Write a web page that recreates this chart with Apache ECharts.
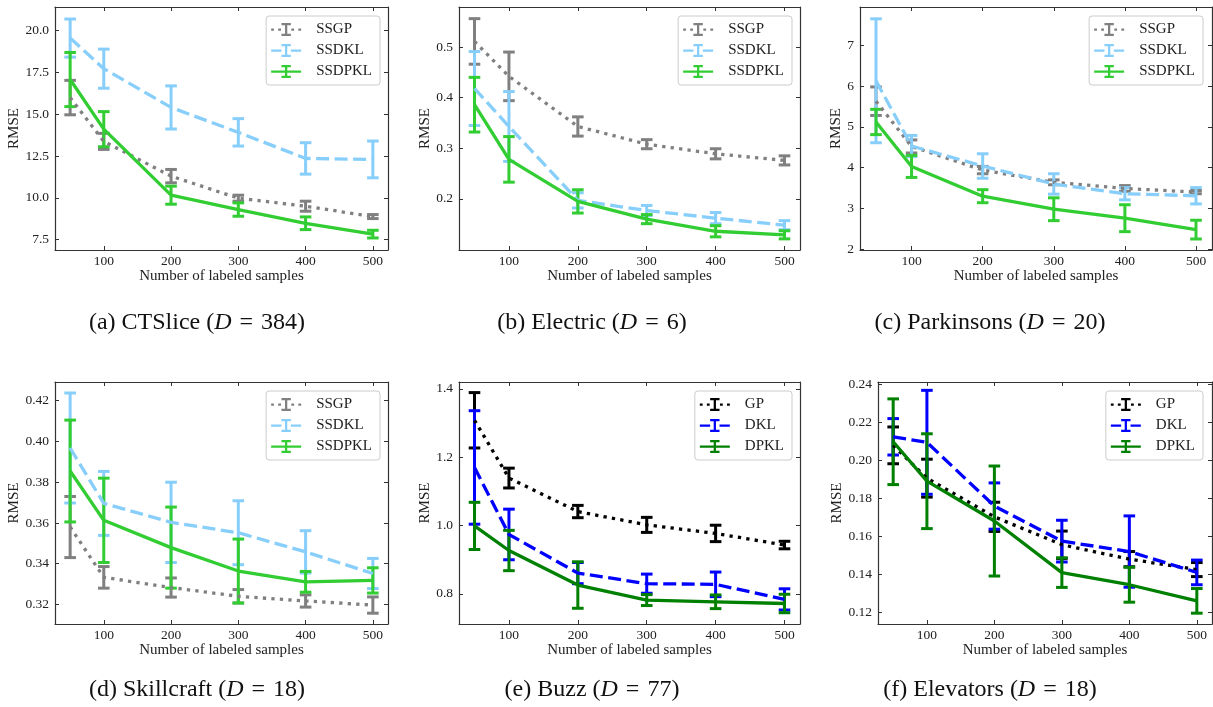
<!DOCTYPE html>
<html><head><meta charset="utf-8">
<script src="https://cdn.jsdelivr.net/npm/echarts@6/dist/echarts.min.js"></script>
<style>html,body{margin:0;padding:0;background:#fff}#main{width:1213px;height:707px}</style>
</head><body><div id="main"></div>
<script>
// ---------- data ----------
const samples = [50, 100, 200, 300, 400, 500];
const xTicks = [100, 200, 300, 400, 500];

// (a) CTSlice
const ctsliceSSGP = [16.0, 13.38, 11.3, 9.98, 9.5, 8.88];
const ctsliceSSGPErr = [1.03, 0.48, 0.4, 0.18, 0.3, 0.12];
const ctsliceSSDKL = [19.56, 17.73, 15.41, 13.92, 12.36, 12.3];
const ctsliceSSDKLErr = [1.14, 1.17, 1.29, 0.82, 0.94, 1.1];
const ctsliceSSDPKL = [17.08, 14.11, 10.16, 9.3, 8.48, 7.83];
const ctsliceSSDPKLErr = [1.62, 1.05, 0.54, 0.4, 0.38, 0.23];
const ctsliceYTicks = [7.5, 10, 12.5, 15, 17.5, 20];

// (b) Electric
const electricSSGP = [0.511, 0.442, 0.343, 0.308, 0.289, 0.276];
const electricSSGPErr = [0.045, 0.048, 0.019, 0.009, 0.01, 0.009];
const electricSSDKL = [0.418, 0.343, 0.197, 0.177, 0.162, 0.148];
const electricSSDKLErr = [0.073, 0.069, 0.015, 0.01, 0.011, 0.009];
const electricSSDPKL = [0.386, 0.278, 0.195, 0.16, 0.136, 0.129];
const electricSSDPKLErr = [0.054, 0.045, 0.023, 0.009, 0.011, 0.008];
const electricYTicks = [0.2, 0.3, 0.4, 0.5];

// (c) Parkinsons
const parkinsonsSSGP = [5.63, 4.52, 3.94, 3.64, 3.49, 3.4];
const parkinsonsSSGPErr = [0.35, 0.16, 0.09, 0.06, 0.07, 0.04];
const parkinsonsSSDKL = [6.13, 4.53, 4.04, 3.6, 3.36, 3.31];
const parkinsonsSSDKLErr = [1.52, 0.26, 0.3, 0.25, 0.15, 0.2];
const parkinsonsSSDPKL = [5.12, 4.03, 3.3, 2.98, 2.76, 2.48];
const parkinsonsSSDPKLErr = [0.31, 0.27, 0.16, 0.28, 0.33, 0.23];
const parkinsonsYTicks = [2, 3, 4, 5, 6, 7];

// (d) Skillcraft
const skillcraftSSGP = [0.358, 0.3333, 0.3283, 0.324, 0.3217, 0.3197];
const skillcraftSSGPErr = [0.015, 0.0053, 0.0047, 0.0033, 0.003, 0.004];
const skillcraftSSDKL = [0.3968, 0.3696, 0.3603, 0.3552, 0.3458, 0.3352];
const skillcraftSSDKLErr = [0.027, 0.0157, 0.0197, 0.0157, 0.0104, 0.0074];
const skillcraftSSDPKL = [0.3855, 0.3613, 0.3479, 0.3364, 0.3311, 0.3318];
const skillcraftSSDPKLErr = [0.025, 0.0207, 0.0199, 0.0157, 0.0051, 0.0062];
const skillcraftYTicks = [0.32, 0.34, 0.36, 0.38, 0.40, 0.42];

// (e) Buzz
const buzzGP = [1.308, 1.139, 1.041, 1.002, 0.977, 0.943];
const buzzGPErr = [0.081, 0.029, 0.018, 0.022, 0.024, 0.011];
const buzzDKL = [1.17, 0.974, 0.861, 0.83, 0.828, 0.784];
const buzzDKLErr = [0.166, 0.074, 0.031, 0.028, 0.036, 0.031];
const buzzDPKL = [0.999, 0.927, 0.826, 0.782, 0.777, 0.772];
const buzzDPKLErr = [0.069, 0.059, 0.068, 0.016, 0.02, 0.027];
const buzzYTicks = [0.8, 1.0, 1.2, 1.4];

// (f) Elevators
const elevatorsGP = [0.208, 0.1907, 0.1703, 0.1556, 0.148, 0.1425];
const elevatorsGPErr = [0.0097, 0.01, 0.0077, 0.0072, 0.004, 0.0037];
const elevatorsDKL = [0.2125, 0.2096, 0.176, 0.1575, 0.152, 0.141];
const elevatorsDKLErr = [0.0096, 0.0274, 0.0122, 0.011, 0.0188, 0.0065];
const elevatorsDPKL = [0.2099, 0.1891, 0.1681, 0.1409, 0.1345, 0.126];
const elevatorsDPKLErr = [0.0226, 0.025, 0.029, 0.0078, 0.0092, 0.0065];
const elevatorsYTicks = [0.12, 0.14, 0.16, 0.18, 0.20, 0.22, 0.24];

// ---------- styling / layout ----------
const FONT = 'Liberation Serif';
const TXT = '#222';
const AX = '#333';
const LW = 3.3;

const methodStyle = {
  SSGP:   { color: '#808080', dash: [3.3, 5.2] },
  SSDKL:  { color: '#87CEFA', dash: [13, 5.5] },
  SSDPKL: { color: '#32CD32', dash: 'solid' },
  GP:     { color: '#000000', dash: [3.3, 5.2] },
  DKL:    { color: '#0000FF', dash: [13, 5.5] },
  DPKL:   { color: '#008000', dash: 'solid' }
};
const beam = 'M14.8 0H17.2V14H14.8Z M11 0H21V2.4H11Z M11 11.6H21V14H11Z';
const iconPath = {
  solid: 'path://M0 5.8H32V8.2H0Z ' + beam,
  dashed: 'path://M0 5.8H11V8.2H0Z M21 5.8H32V8.2H21Z ' + beam,
  dotted: 'path://M0 5.8H3V8.2H0Z M7.5 5.8H10.5V8.2H7.5Z M21.5 5.8H24.5V8.2H21.5Z M29 5.8H32V8.2H29Z ' + beam
};
function iconFor(m) {
  const d = methodStyle[m].dash;
  if (d === 'solid') return iconPath.solid;
  return d[0] < 5 ? iconPath.dotted : iconPath.dashed;
}

const EQ = '\u2004=\u2004';
const panels = [
  { caption: ['(a) CTSlice (', 'D', EQ + '384)'], cx: 197, cy: 323,
    grid: { left: 55, top: 7, width: 333, height: 243 }, y: [6.88, 21.42], yTicks: ctsliceYTicks, dec: 1, nameGap: 31,
    legend: { right: 833, top: 16 },
    methods: [['SSGP', ctsliceSSGP, ctsliceSSGPErr], ['SSDKL', ctsliceSSDKL, ctsliceSSDKLErr], ['SSDPKL', ctsliceSSDPKL, ctsliceSSDPKLErr]] },
  { caption: ['(b) Electric (', 'D', EQ + '6)'], cx: 592, cy: 323,
    grid: { left: 459, top: 7, width: 341, height: 243 }, y: [0.099, 0.579], yTicks: electricYTicks, dec: 1, nameGap: 22,
    legend: { right: 421, top: 16 },
    methods: [['SSGP', electricSSGP, electricSSGPErr], ['SSDKL', electricSSDKL, electricSSDKLErr], ['SSDPKL', electricSSDPKL, electricSSDPKLErr]] },
  { caption: ['(c) Parkinsons (', 'D', EQ + '20)'], cx: 990, cy: 323,
    grid: { left: 860, top: 7, width: 352, height: 243 }, y: [1.98, 7.94], yTicks: parkinsonsYTicks, dec: 0, nameGap: 11,
    legend: { right: 10, top: 16 },
    methods: [['SSGP', parkinsonsSSGP, parkinsonsSSGPErr], ['SSDKL', parkinsonsSSDKL, parkinsonsSSDKLErr], ['SSDPKL', parkinsonsSSDPKL, parkinsonsSSDPKLErr]] },
  { caption: ['(d) Skillcraft (', 'D', EQ + '18)'], cx: 197, cy: 690,
    grid: { left: 55, top: 382, width: 333, height: 242 }, y: [0.3104, 0.4292], yTicks: skillcraftYTicks, dec: 2, nameGap: 31,
    legend: { right: 833, top: 391 },
    methods: [['SSGP', skillcraftSSGP, skillcraftSSGPErr], ['SSDKL', skillcraftSSDKL, skillcraftSSDKLErr], ['SSDPKL', skillcraftSSDPKL, skillcraftSSDPKLErr]] },
  { caption: ['(e) Buzz (', 'D', EQ + '77)'], cx: 592, cy: 690,
    grid: { left: 459, top: 382, width: 341, height: 242 }, y: [0.712, 1.42], yTicks: buzzYTicks, dec: 1, nameGap: 22,
    legend: { right: 421, top: 391 },
    methods: [['GP', buzzGP, buzzGPErr], ['DKL', buzzDKL, buzzDKLErr], ['DPKL', buzzDPKL, buzzDPKLErr]] },
  { caption: ['(f) Elevators (', 'D', EQ + '18)'], cx: 990, cy: 690,
    grid: { left: 878, top: 382, width: 334, height: 242 }, y: [0.1138, 0.2414], yTicks: elevatorsYTicks, dec: 2, nameGap: 30,
    legend: { right: 10, top: 391 },
    methods: [['GP', elevatorsGP, elevatorsGPErr], ['DKL', elevatorsDKL, elevatorsDKLErr], ['DPKL', elevatorsDPKL, elevatorsDPKLErr]] }
];

const tickStyle = { show: true, inside: true, length: 4, lineStyle: { color: AX, width: 1 } };
const lineStyleAx = { show: true, lineStyle: { color: AX, width: 1.2 } };

const grid = [], xAxis = [], yAxis = [], series = [], legend = [], graphic = [];
panels.forEach((p, i) => {
  grid.push(Object.assign({ containLabel: false }, p.grid));
  xAxis.push({
    type: 'value', gridIndex: i, min: 27.5, max: 522.5, position: 'bottom',
    name: 'Number of labeled samples', nameLocation: 'middle', nameGap: 15,
    nameTextStyle: { fontFamily: FONT, fontSize: 15, color: TXT },
    axisLine: lineStyleAx, splitLine: { show: false },
    axisTick: Object.assign({ customValues: xTicks }, tickStyle),
    axisLabel: { customValues: xTicks, fontFamily: FONT, fontSize: 13.5, color: TXT, margin: 4 }
  });
  yAxis.push({
    type: 'value', gridIndex: i, min: p.y[0], max: p.y[1], position: 'left',
    name: 'RMSE', nameLocation: 'middle', nameGap: p.nameGap,
    nameTextStyle: { fontFamily: FONT, fontSize: 15, color: TXT },
    axisLine: lineStyleAx, splitLine: { show: false },
    axisTick: Object.assign({ customValues: p.yTicks }, tickStyle),
    axisLabel: { customValues: p.yTicks, fontFamily: FONT, fontSize: 13.5, color: TXT, margin: 6,
      formatter: (v) => Number(v).toFixed(p.dec) }
  });
});
// top / right mirror axes (ticks only)
panels.forEach((p, i) => {
  xAxis.push({
    type: 'value', gridIndex: i, min: 27.5, max: 522.5, position: 'top',
    axisLine: lineStyleAx, splitLine: { show: false },
    axisTick: Object.assign({ customValues: xTicks }, tickStyle),
    axisLabel: { show: false }
  });
  yAxis.push({
    type: 'value', gridIndex: i, min: p.y[0], max: p.y[1], position: 'right',
    axisLine: lineStyleAx, splitLine: { show: false },
    axisTick: Object.assign({ customValues: p.yTicks }, tickStyle),
    axisLabel: { show: false }
  });
});

function errRender(color) {
  return function (params, api) {
    const x = api.value(0), m = api.value(1), e = api.value(2);
    const top = api.coord([x, m + e]);
    const bot = api.coord([x, m - e]);
    const cw = 5.8;
    const st = { stroke: color, lineWidth: 3, lineCap: 'butt' };
    return {
      type: 'group', children: [
        { type: 'line', shape: { x1: top[0], y1: top[1], x2: bot[0], y2: bot[1] }, style: st },
        { type: 'line', shape: { x1: top[0] - cw, y1: top[1], x2: top[0] + cw, y2: top[1] }, style: st },
        { type: 'line', shape: { x1: bot[0] - cw, y1: bot[1], x2: bot[0] + cw, y2: bot[1] }, style: st }
      ]
    };
  };
}

panels.forEach((p, i) => {
  p.methods.forEach(([name, mean, err], k) => {
    const s = methodStyle[name];
    series.push({
      type: 'custom', name: name, xAxisIndex: i, yAxisIndex: i, z: 2 + k * 0.1,
      renderItem: errRender(s.color), itemStyle: { color: s.color },
      encode: { x: 0, y: [1] }, clip: false,
      data: samples.map((x, j) => [x, mean[j], err[j]]), silent: true
    });
    series.push({
      type: 'line', name: name, xAxisIndex: i, yAxisIndex: i, z: 3 + k * 0.1,
      showSymbol: false, symbol: 'none', silent: true, animation: false,
      lineStyle: { color: s.color, width: LW, type: s.dash, cap: 'butt' },
      itemStyle: { color: s.color },
      data: samples.map((x, j) => [x, mean[j]])
    });
  });
  legend.push({
    orient: 'vertical', right: p.legend.right, top: p.legend.top,
    itemWidth: 30, itemHeight: 14, itemGap: 6, padding: [6, 8, 6, 5],
    borderColor: '#cccccc', borderWidth: 1, borderRadius: 3, backgroundColor: 'rgba(255,255,255,0.8)',
    selectedMode: false,
    textStyle: { fontFamily: FONT, fontSize: 15, color: TXT, padding: [0, 0, 0, 10] },
    data: p.methods.map(([name]) => ({ name: name, icon: iconFor(name), itemStyle: { color: methodStyle[name].color, borderWidth: 0 } }))
  });
  graphic.push({
    type: 'text', x: p.cx, y: p.cy,
    style: {
      text: p.caption[0] + '{it|' + p.caption[1] + '}' + p.caption[2],
      align: 'center', verticalAlign: 'middle',
      fontFamily: FONT, fontSize: 24, fill: '#111',
      rich: { it: { fontStyle: 'italic', fontFamily: FONT, fontSize: 24, fill: '#111' } }
    }
  });
});

const chart = echarts.init(document.getElementById('main'), null, { renderer: 'canvas' });
chart.setOption({
  animation: false,
  backgroundColor: '#ffffff',
  grid, xAxis, yAxis, series, legend, graphic
});
</script>
</body></html>
